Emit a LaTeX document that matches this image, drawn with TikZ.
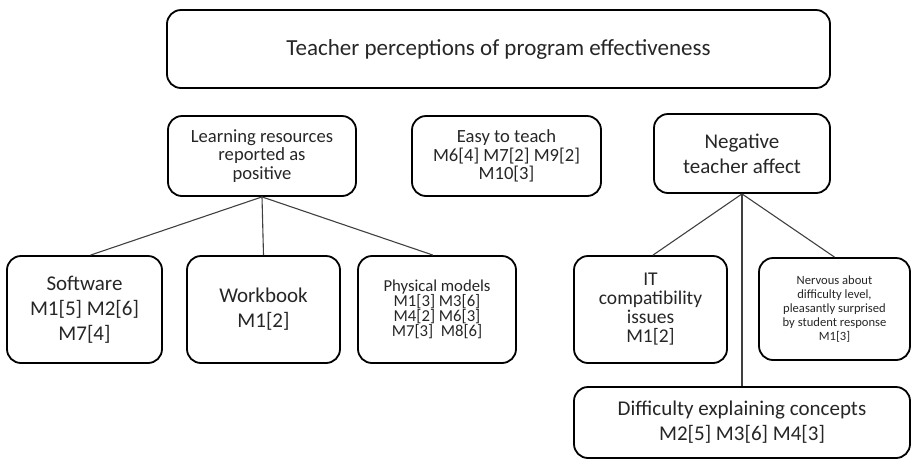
\documentclass[tikz,border=0pt]{standalone}
\usepackage{fontspec}
\setmainfont{Carlito}
\begin{document}
\begin{tikzpicture}[x=1pt,y=-1pt,
  box/.style={draw=black,line width=1.8pt,rounded corners=14pt,align=center,inner sep=0pt,text=black!85},
  conn/.style={draw=black!75,line width=1.1pt},
  fA/.style={font=\fontsize{23}{28}\selectfont},
  fB/.style={font=\fontsize{21}{25}\selectfont},
  fC/.style={font=\fontsize{18.6}{18.5}\selectfont},
  fD/.style={font=\fontsize{16.7}{15}\selectfont},
  fE/.style={font=\fontsize{19.5}{19}\selectfont},
  fF/.style={font=\fontsize{12.6}{14}\selectfont}]
\useasboundingbox (0,0) rectangle (911,459);
\node[box,fA,minimum width=663pt,minimum height=78pt] (top) at (498.5,49) {Teacher perceptions of program effectiveness};
\node[box,fC,minimum width=188pt,minimum height=80pt] (lr) at (262,156) {Learning resources\\reported as\\positive};
\node[box,fC,minimum width=189pt,minimum height=80pt] (easy) at (506.5,156) {Easy to teach\\M6[4] M7[2] M9[2]\\M10[3]};
\node[box,fB,minimum width=176pt,minimum height=79pt] (neg) at (742,153.5) {Negative\\teacher affect};
\node[box,fB,minimum width=155pt,minimum height=107pt] (soft) at (84.5,309.5) {Software\\M1[5] M2[6]\\M7[4]};
\node[box,fB,minimum width=153pt,minimum height=107pt] (work) at (263.5,309.5) {Workbook\\M1[2]};
\node[box,fD,minimum width=158pt,minimum height=107pt] (phys) at (437,309.5) {Physical models\\M1[3] M3[6]\\M4[2] M6[3]\\M7[3]~~M8[6]};
\node[box,fE,minimum width=153pt,minimum height=107pt] (it) at (650.5,309.5) {IT\\compatibility\\issues\\M1[2]};
\node[box,fF,minimum width=151pt,minimum height=102pt] (nerv) at (834.5,309) {Nervous about\\difficulty level,\\pleasantly surprised\\by student response\\M1[3]};
\node[box,fB,minimum width=336pt,minimum height=71pt] (diff) at (742,422.5) {Difficulty explaining concepts\\M2[5] M3[6] M4[3]};
\draw[conn] (lr.south) -- ([xshift=6pt]soft.north);
\draw[conn] (lr.south) -- (work.north);
\draw[conn] (lr.south) -- ([xshift=-4pt]phys.north);
\draw[conn] (neg.south) -- ([xshift=2.5pt]it.north);
\draw[conn] (neg.south) -- (nerv.north);
\draw[conn] (neg.south) -- (diff.north);
\end{tikzpicture}
\end{document}
